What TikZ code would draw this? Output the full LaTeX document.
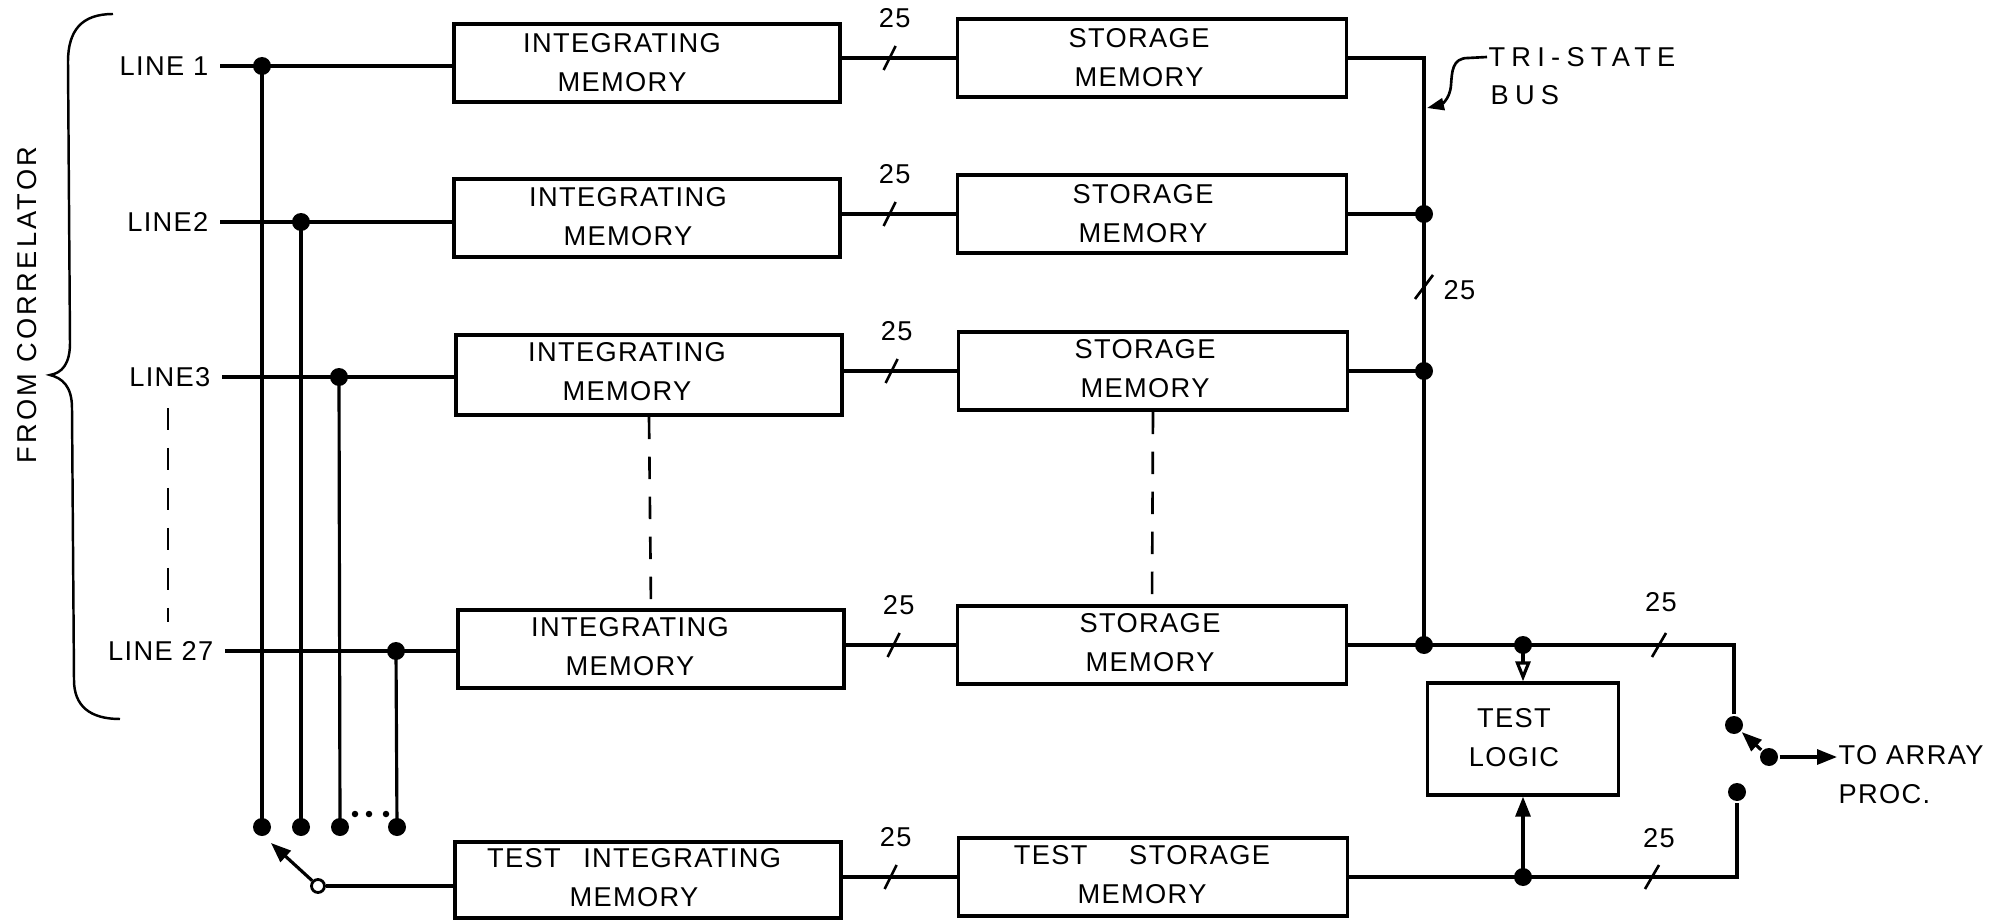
\documentclass[tikz,border=0pt]{standalone}
\usepackage{fontspec}
\setmainfont{Liberation Sans}
\newfontfamily\lsa[LetterSpace=5]{Liberation Sans}
\newfontfamily\lsb[LetterSpace=12]{Liberation Sans}
\newfontfamily\lsc[LetterSpace=23]{Liberation Sans}
\usetikzlibrary{arrows.meta,calc}
\newcommand{\tickmark}[2][6]{\draw[line width=1.5pt] ($(#2)+(-#1,12)$) -- ($(#2)+(#1,-12)$);}
\begin{document}
\begin{tikzpicture}[x=0.02cm,y=-0.02cm,line width=1.8pt,
  box/.style={draw,line width=1.9pt,minimum width=7.72cm,minimum height=1.56cm,inner sep=0},
  sbox/.style={box,minimum width=7.78cm},
  txt/.style={font=\lsa\fontsize{15.5}{22.2}\selectfont,align=center,inner sep=0},
  lab/.style={txt,anchor=east,inner xsep=0.2cm},
  dot/.style={circle,fill,inner sep=0,minimum size=0.36cm},
  sdot/.style={circle,fill,inner sep=0,minimum size=0.13cm},
  odot/.style={circle,draw,fill=white,inner sep=0,minimum size=0.26cm,line width=1.6pt},
  tip/.style={-{Triangle[length=0.4cm,width=0.3cm]}},
  otip/.style={-{Triangle[open,length=0.4cm,width=0.3cm]}},
  dashln/.style={dash pattern=on 0.45cm off 0.35cm,line width=1.5pt}]
\useasboundingbox (0,0) rectangle (1991,922);

% brace and its label
\draw[line width=1.4pt] (113,14) .. controls (82,14) and (68,30) .. (68,62) -- (70,343)
  .. controls (70,364) and (62,373) .. (50,375) .. controls (62,378) and (72,386) .. (72,408)
  -- (74,680) .. controls (74,706) and (90,719) .. (120,719);
\node[txt,font=\lsb\fontsize{15.5}{22}\selectfont,rotate=90] (fc) at (27,305) {FROM CORRELATOR};

% line labels
\node[lab] (l1) at (220,66) {LINE 1};
\node[lab] (l2) at (220,222) {LINE2};
\node[lab] (l3) at (222,377) {LINE3};
\node[lab] (l27) at (225,651) {LINE 27};
\draw[dashln] (168,408) -- (168,622);

% integrating memories
\node[box] (int1) at (647,63) {};
\node[box] (int2) at (647,218) {};
\node[box,minimum height=1.6cm] (int3) at (649,375) {};
\node[box] (int27) at (651,649) {};
\node[box,minimum height=1.52cm] (intT) at (648,880) {};
\node[txt] (int1t) at (622,63) {INTEGRATING\\MEMORY};
\node[txt] (int2t) at (628,217) {INTEGRATING\\MEMORY};
\node[txt] (int3t) at (627,372) {INTEGRATING\\MEMORY};
\node[txt] (int27t) at (630,647) {INTEGRATING\\MEMORY};
\node[txt] (intTt) at (634,878) {TEST\hspace{0.5em} INTEGRATING\\MEMORY};

% storage memories
\node[sbox] (st1) at (1152,58) {};
\node[sbox] (st2) at (1152,214) {};
\node[sbox] (st3) at (1153,371) {};
\node[sbox] (st27) at (1152,645) {};
\node[sbox] (stT) at (1153,877) {};
\node[txt] (st1t) at (1139,58) {STORAGE\\MEMORY};
\node[txt] (st2t) at (1143,214) {STORAGE\\MEMORY};
\node[txt] (st3t) at (1145,369) {STORAGE\\MEMORY};
\node[txt] (st27t) at (1150,643) {STORAGE\\MEMORY};
\node[txt] (stTt) at (1142,875) {TEST\hspace{1.2em} STORAGE\\MEMORY};

% dashed continuation
\draw[dashln] (int3.south) -- (int27.north);
\draw[dashln] (st3.south) -- (st27.north);

% input lines
\foreach \r in {1,2,3,27} \draw (l\r.east) -- (l\r.east -| int\r.west);
\coordinate (j1) at (262,66);
\coordinate (j2) at (301,222);
\coordinate (j3) at (339,377);
\coordinate (j27) at (396,651);
\coordinate (b1) at (262,827);
\coordinate (b2) at (301,827);
\coordinate (b3) at (340,827);
\coordinate (b27) at (397,827);
\foreach \r in {1,2,3,27} {
  \draw (j\r) -- (b\r);
  \node[dot] (dj\r) at (j\r) {};
  \node[dot] (db\r) at (b\r) {};
}
\node[sdot] (e1) at (355,814) {};
\node[sdot] (e2) at (369,814) {};
\node[sdot] (e3) at (386,814) {};

% left selector switch
\node[odot] (piv) at (318,886) {};
\coordinate (swtip) at (271,843);
\draw[tip] (piv) -- (swtip);
\draw (piv) -- (piv -| intT.west);

% integrating -> storage
\foreach \r in {1,2,3,27,T} {
  \draw (int\r.east |- st\r.west) -- (st\r.west);
  \coordinate (s\r) at ($(int\r.east |- st\r.west)+(48,0)$);
  \tickmark{s\r}
  \node[txt] (n\r) at ($(s\r)+(5,-40)$) {25};
}

% tri-state bus
\coordinate (bt) at (1424,58);
\coordinate (bb) at (1424,645);
\draw (st1.east) -- (bt) -- (bb);
\draw (st2.east) -- (st2.east -| bt);
\draw (st3.east) -- (st3.east -| bt);
\node[dot] (d2) at (st2.east -| bt) {};
\node[dot] (d3) at (st3.east -| bt) {};
\coordinate (bs) at (1424,287);
\tickmark[9]{bs}
\node[txt,anchor=west] (nb) at (1442,290) {25};
\node[txt,font=\lsc\fontsize{15.5}{22}\selectfont,anchor=west] (ts1) at (1487,57) {TRI-STATE};
\node[txt,font=\lsc\fontsize{15.5}{22}\selectfont,anchor=west] (ts2) at (1489,95) {BUS};
\draw[-{Triangle[length=0.34cm,width=0.24cm]},line width=1.5pt] (ts1.west) -- (1468,58)
  .. controls (1452,58) and (1452,72) .. (1451,85) .. controls (1450,100) and (1440,105) .. (1427,108);

% test logic
\node[box,minimum width=3.82cm,minimum height=2.24cm] (TL) at (1523,739) {};
\node[txt] (TLt) at (1514,738) {TEST\\LOGIC};

% outputs
\coordinate (tj1) at (TL.north |- st27.east);
\coordinate (tj2) at (TL.south |- stT.east);
\coordinate (c1) at (1734,645);
\coordinate (c2) at (1737,877);
\node[dot] (uc) at (1734,725) {};
\node[dot] (lc) at (1737,792) {};
\draw (st27.east) -- (bb) -- (tj1) -- (c1) -- (uc);
\draw (stT.east) -- (tj2) -- (c2) -- (lc);
\node[dot] (db) at (bb) {};
\node[dot] (dt1) at (tj1) {};
\node[dot] (dt2) at (tj2) {};
\draw[otip] (tj1) -- (TL.north);
\draw[tip] (tj2) -- (TL.south);
\coordinate (s27o) at (1659,645);
\coordinate (sTo) at (1652,877);
\tickmark[7]{s27o}
\tickmark[7]{sTo}
\node[txt] (n27o) at (1661,602) {25};
\node[txt] (nTo) at (1659,838) {25};

% output switch
\node[dot] (p2) at (1769,757) {};
\draw[tip] (p2) -- (uc);
\node[txt,align=left,anchor=west] (arr) at (1837,775) {TO ARRAY\\PROC.};
\draw[tip] (p2) -- (p2 -| arr.west);
\end{tikzpicture}
\end{document}
